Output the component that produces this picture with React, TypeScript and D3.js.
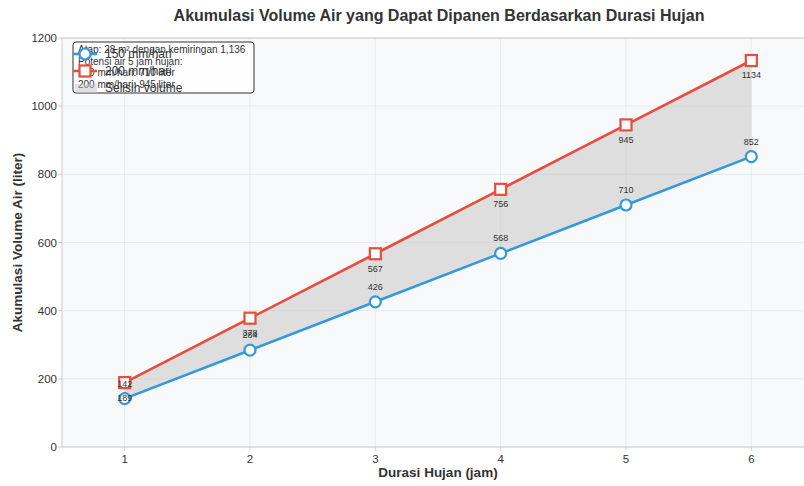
import React from "react";
import * as d3 from "d3";

const hours = [1, 2, 3, 4, 5, 6];
const vol150 = [142, 284, 426, 568, 710, 852];
const vol200 = [189, 378, 567, 756, 945, 1134];
const yTicks = [0, 200, 400, 600, 800, 1000, 1200];
const seriesNames = ["150 mm/hari", "200 mm/hari", "Selisih volume"];
const noteLines = [
  "Atap: 28 m\u00B2 dengan kemiringan 1,136",
  "Potensi air 5 jam hujan:",
  "150 mm/hari: 710 liter",
  "200 mm/hari: 945 liter",
];

const W = 804;
const H = 486;
const FONT = "'Liberation Sans', Arial, sans-serif";

export default function App() {
  const left = 62, top = 38, bottom = 447, right = 814;
  const x = d3.scaleLinear().domain([0.5, 6.5]).range([left, right]);
  const y = d3.scaleLinear().domain([0, 1200]).range([bottom, top]);
  const blue = "#3498db";
  const red = "#e74c3c";

  const line = d3.line<[number, number]>().x((d) => x(d[0])).y((d) => y(d[1]));
  const p150 = hours.map((h, i) => [h, vol150[i]] as [number, number]);
  const p200 = hours.map((h, i) => [h, vol200[i]] as [number, number]);
  const area = d3
    .area<number>()
    .x((d) => x(d))
    .y0((d, i) => y(vol150[i]))
    .y1((d, i) => y(vol200[i]));

  return (
    <div style={{ position: "fixed", left: 0, top: 0 }}>
      <svg width={W} height={H} style={{ display: "block" }} fontFamily={FONT}>
        <rect x={0} y={0} width={W} height={H} fill="#ffffff" />
        <rect x={left} y={top} width={right - left} height={bottom - top} fill="#f8f9fb" />
        {yTicks.map((t) => (
          <line key={"gy" + t} x1={left} x2={right} y1={y(t)} y2={y(t)} stroke="#e6e6e6" strokeWidth={0.8} />
        ))}
        {hours.map((h) => (
          <line key={"gx" + h} x1={x(h)} x2={x(h)} y1={top} y2={bottom} stroke="#e6e6e6" strokeWidth={0.8} />
        ))}
        <rect x={left} y={top} width={right - left} height={bottom - top} fill="none" stroke="#cccccc" strokeWidth={1} />

        <path d={area(hours) || ""} fill="#c4c4c4" fillOpacity={0.5} />
        <path d={line(p150) || ""} fill="none" stroke={blue} strokeWidth={2.6} />
        <path d={line(p200) || ""} fill="none" stroke={red} strokeWidth={2.6} />
        {p150.map((d, i) => (
          <circle key={"c" + i} cx={x(d[0])} cy={y(d[1])} r={5.5} fill="#fff" stroke={blue} strokeWidth={2.2} />
        ))}
        {p200.map((d, i) => (
          <rect key={"s" + i} x={x(d[0]) - 5.5} y={y(d[1]) - 5.5} width={11} height={11} fill="#fff" stroke={red} strokeWidth={2.2} />
        ))}
        {p150.map((d, i) => (
          <text key={"l1" + i} x={x(d[0])} y={y(d[1]) - 12} textAnchor="middle" fontSize={9} fill="#333">
            {d[1]}
          </text>
        ))}
        {p200.map((d, i) => (
          <text key={"l2" + i} x={x(d[0])} y={y(d[1]) + 18} textAnchor="middle" fontSize={9} fill="#333">
            {d[1]}
          </text>
        ))}

        {yTicks.map((t) => (
          <g key={"ty" + t}>
            <line x1={left - 3.5} x2={left} y1={y(t)} y2={y(t)} stroke="#cccccc" />
            <text x={left - 5} y={y(t) + 4} textAnchor="end" fontSize={11.5} fill="#333">
              {t}
            </text>
          </g>
        ))}
        {hours.map((h) => (
          <g key={"tx" + h}>
            <line x1={x(h)} x2={x(h)} y1={bottom} y2={bottom + 3.5} stroke="#cccccc" />
            <text x={x(h)} y={bottom + 16} textAnchor="middle" fontSize={11.5} fill="#333">
              {h}
            </text>
          </g>
        ))}

        <text x={439} y={21} textAnchor="middle" fontSize={16} fontWeight="bold" fill="#333">
          Akumulasi Volume Air yang Dapat Dipanen Berdasarkan Durasi Hujan
        </text>
        <text x={438} y={477} textAnchor="middle" fontSize={13.5} fontWeight="bold" fill="#333">
          Durasi Hujan (jam)
        </text>
        <text
          transform={`translate(22,${(top + bottom) / 2}) rotate(-90)`}
          textAnchor="middle"
          fontSize={13.5}
          fontWeight="bold"
          fill="#333"
        >
          Akumulasi Volume Air (liter)
        </text>

        <rect x={73} y={42} width={181} height={51} rx={3} fill="#fff" fillOpacity={0.85} stroke="#333" strokeWidth={1} />
        {noteLines.map((s, i) => (
          <text key={"n" + i} x={78} y={53 + i * 11.7} fontSize={10} fill="#333">
            {s}
          </text>
        ))}
        <line x1={73} x2={97} y1={54} y2={54} stroke={blue} strokeWidth={2.6} />
        <circle cx={85} cy={54} r={5.5} fill="#fff" stroke={blue} strokeWidth={2.2} />
        <line x1={73} x2={97} y1={71} y2={71} stroke={red} strokeWidth={2.6} />
        <rect x={79.5} y={65.5} width={11} height={11} fill="#fff" stroke={red} strokeWidth={2.2} />
        <rect x={75} y={84} width={22} height={9} fill="#c4c4c4" fillOpacity={0.5} />
        {seriesNames.map((s, i) => (
          <text key={"lg" + i} x={105} y={58 + i * 17} fontSize={12} fill="#333">
            {s}
          </text>
        ))}
      </svg>
    </div>
  );
}
